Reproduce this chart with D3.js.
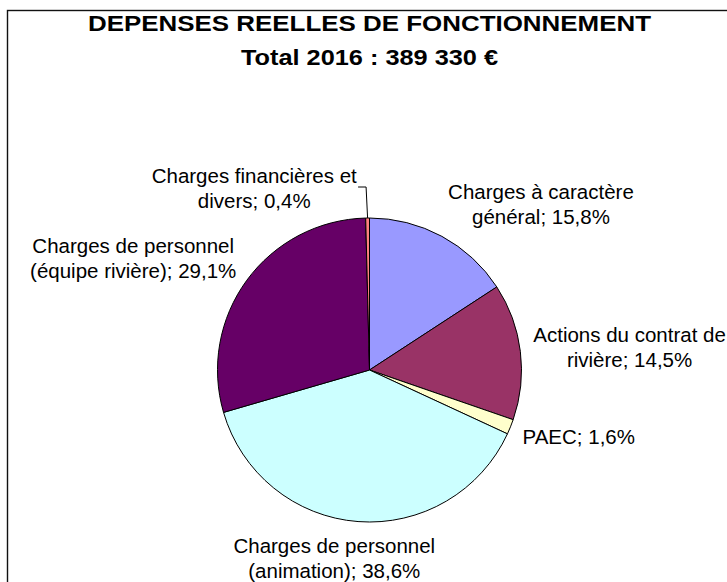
<!DOCTYPE html>
<html>
<head>
<meta charset="utf-8">
<script src="https://cdn.jsdelivr.net/npm/d3@7.9.0/dist/d3.min.js"></script>
<style>
  html, body { margin: 0; padding: 0; background: #fff; }
  svg { display: block; font-family: "Liberation Sans", Arial, sans-serif; }
</style>
</head>
<body>
<svg id="chart" width="727" height="582"></svg>
<script>
// chart data, clockwise from 12 o'clock
const titleLines = ['DEPENSES REELLES DE FONCTIONNEMENT', 'Total 2016 : 389 330 €'];
const categories = [
  'Charges à caractère\ngénéral',
  'Actions du contrat de\nrivière',
  'PAEC',
  'Charges de personnel\n(animation)',
  'Charges de personnel\n(équipe rivière)',
  'Charges financières et\ndivers'
];
const shares = [15.8, 14.5, 1.6, 38.6, 29.1, 0.4];
const sliceColors = ['#9999FF', '#993366', '#FFFFCC', '#CCFFFF', '#660066', '#FF8080'];

const width = 727, height = 582;
const cx = 369.5, cy = 370, radius = 152;
const fontSize = 20.5, lineH = 25;

const svg = d3.select('#chart');

// outer frame (runs off the right and bottom edges in the original)
svg.append('rect')
  .attr('x', 7.5).attr('y', 10.5)
  .attr('width', 900).attr('height', 800)
  .attr('fill', 'none')
  .attr('stroke', '#111')
  .attr('stroke-width', 1.4);

// title - excel renders it wider than the font's own advance widths
const titleLen = [563, 257];
titleLines.forEach((t, i) => {
  svg.append('text')
    .attr('x', cx).attr('y', 31 + i * 34)
    .attr('text-anchor', 'middle')
    .attr('font-size', 22.5)
    .attr('font-weight', 'bold')
    .attr('textLength', titleLen[i])
    .attr('lengthAdjust', 'spacingAndGlyphs')
    .text(t);
});

const fmt = v => d3.format('.1f')(v).replace('.', ',') + '%';

const pie = d3.pie().sort(null).value(d => d);
const arcs = pie(shares);
const arc = d3.arc().innerRadius(0).outerRadius(radius);

const g = svg.append('g').attr('transform', `translate(${cx},${cy})`);
g.selectAll('path')
  .data(arcs)
  .join('path')
  .attr('d', arc)
  .attr('fill', (d, i) => sliceColors[i])
  .attr('stroke', '#000')
  .attr('stroke-width', 1);

// labels outside the pie, box pushed away from the anchor point
const labelR = 165;
arcs.forEach((a, i) => {
  const mid = (a.startAngle + a.endAngle) / 2;
  const lines = (categories[i] + '; ' + fmt(shares[i])).split('\n');
  const text = svg.append('text')
    .attr('font-size', fontSize)
    .attr('text-anchor', 'middle')
    .attr('fill', '#000');
  lines.forEach((l, k) => {
    text.append('tspan').attr('x', 0).attr('y', k * lineH).text(l);
  });
  const bb = text.node().getBBox();
  let bx, by;
  if (shares[i] < 1) {
    // tiny slice: label lifted up-left with a leader line
    const px = cx + radius * Math.sin(mid), py = cy - radius * Math.cos(mid);
    const ex = px - 1.5, ey = py - 31;
    svg.append('polyline')
      .attr('points', [[px, py], [ex, ey], [ex - 8, ey]].map(p => p.join(',')).join(' '))
      .attr('fill', 'none').attr('stroke', '#000').attr('stroke-width', 1);
    bx = ex - 9 - bb.width / 2;
    by = ey + 1;
  } else {
    const ax = cx + labelR * Math.sin(mid), ay = cy - labelR * Math.cos(mid);
    const kx = Math.max(-1, Math.min(1, 3 * Math.sin(mid)));
    bx = ax + kx * bb.width / 2;
    by = ay - Math.cos(mid) * bb.height / 2;
  }
  const ox = bx - (bb.x + bb.width / 2), oy = by - (bb.y + bb.height / 2);
  text.attr('transform', `translate(${ox},${oy})`);
});
</script>
</body>
</html>
